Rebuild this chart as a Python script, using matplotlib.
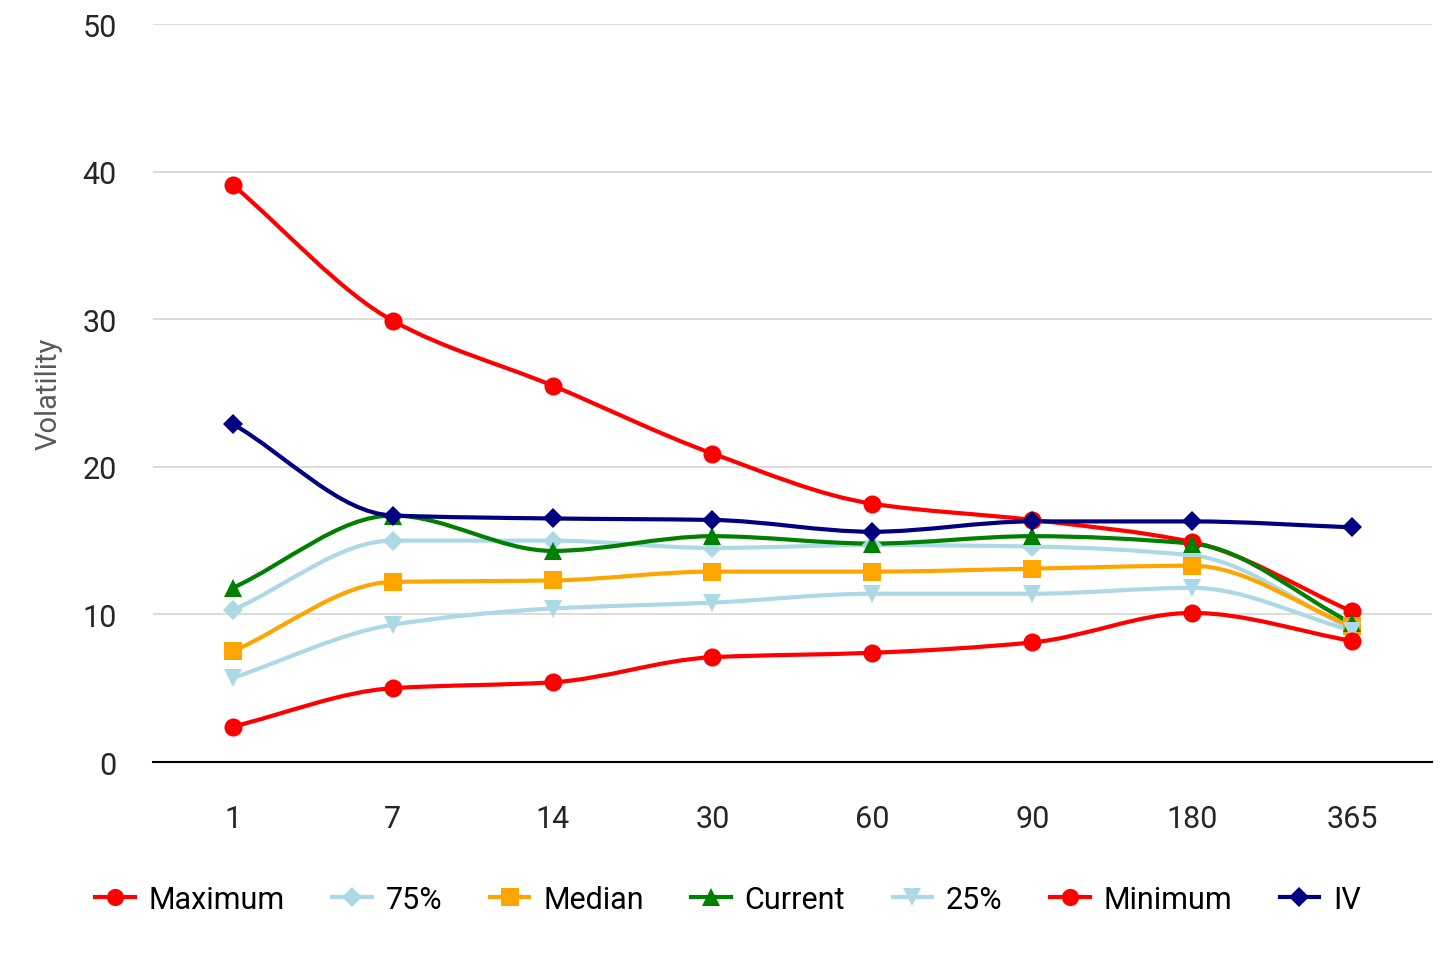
import numpy as np
import matplotlib
matplotlib.use("Agg")
import matplotlib.pyplot as plt
from matplotlib.path import Path
from matplotlib.patches import PathPatch
from matplotlib.lines import Line2D

plt.rcParams['font.family'] = ['Roboto', 'DejaVu Sans']

categories = ["1", "7", "14", "30", "60", "90", "180", "365"]
maximum = [39.1, 29.9, 25.5, 20.9, 17.5, 16.4, 14.9, 10.2]
p75 = [10.3, 15.0, 15.0, 14.5, 14.7, 14.6, 14.0, 9.0]
median = [7.5, 12.2, 12.3, 12.9, 12.9, 13.1, 13.3, 9.2]
current = [11.8, 16.7, 14.3, 15.3, 14.8, 15.3, 14.8, 9.4]
p25 = [5.7, 9.3, 10.4, 10.8, 11.4, 11.4, 11.8, 8.9]
minimum = [2.4, 5.0, 5.4, 7.1, 7.4, 8.1, 10.1, 8.2]
iv = [22.9, 16.7, 16.5, 16.4, 15.6, 16.3, 16.3, 15.9]

series = [
    ("Maximum", maximum, "#ff0000", "o"),
    ("75%", p75, "#add8e6", "D"),
    ("Median", median, "#ffa500", "s"),
    ("Current", current, "#008000", "^"),
    ("25%", p25, "#add8e6", "v"),
    ("Minimum", minimum, "#ff0000", "o"),
    ("IV", iv, "#000080", "D"),
]
marker_sizes = {"o": 13, "D": 10.5, "s": 13, "^": 13, "v": 13}

fig = plt.figure(figsize=(14.56, 9.70), dpi=100)
ax = fig.add_axes([0.105, 0.2134, 0.8785, 0.7608])

def smooth_path(x, y):
    # monotone cubic (Fritsch-Carlson) tangents, drawn as Bezier curves
    x = np.asarray(x, float); y = np.asarray(y, float)
    n = len(x)
    h = np.diff(x)
    d = np.diff(y) / h
    m = np.zeros(n)
    m[0] = d[0]; m[-1] = d[-1]
    for i in range(1, n - 1):
        if d[i - 1] * d[i] <= 0:
            m[i] = 0.0
        else:
            m[i] = 2.0 / (1.0 / d[i - 1] + 1.0 / d[i])
    verts = [(x[0], y[0])]
    codes = [Path.MOVETO]
    for i in range(n - 1):
        c1 = (x[i] + h[i] / 3, y[i] + m[i] * h[i] / 3)
        c2 = (x[i + 1] - h[i] / 3, y[i + 1] - m[i + 1] * h[i] / 3)
        verts += [c1, c2, (x[i + 1], y[i + 1])]
        codes += [Path.CURVE4] * 3
    return Path(verts, codes)

xs = np.arange(len(categories))
handles = []
for name, vals, color, mk in series:
    patch = PathPatch(smooth_path(xs, vals), facecolor="none", edgecolor=color,
                      lw=3.0, capstyle="round", joinstyle="round")
    ax.add_patch(patch)
    ax.plot(xs, vals, linestyle="none", marker=mk, color=color,
            markersize=marker_sizes[mk], markeredgewidth=0)
    handles.append(Line2D([0], [0], color=color, lw=3.0, marker=mk,
                          markersize=marker_sizes[mk] * 0.95, markeredgewidth=0))

ax.set_xlim(-0.5, 7.5)
ax.set_ylim(0, 50)
ax.set_xticks(xs)
ax.set_xticklabels(categories)
ax.set_yticks([0, 10, 20, 30, 40, 50])
ax.tick_params(axis="both", length=0, labelsize=22, labelcolor="#262626")
ax.tick_params(axis="x", pad=30)
ax.tick_params(axis="y", pad=26)
ax.grid(axis="y", color="#d9d9d9", lw=1.3)
ax.set_axisbelow(True)
for s in ["top", "right", "left"]:
    ax.spines[s].set_visible(False)
ax.spines["bottom"].set_color("#000000")
ax.spines["bottom"].set_linewidth(1.5)
ax.set_ylabel("Volatility", fontsize=21, color="#595959", labelpad=14)

fig.legend(handles, [s[0] for s in series], loc="center", ncol=7,
           bbox_to_anchor=(0.5, 0.072), frameon=False, fontsize=22,
           handlelength=1.3, handletextpad=0.45, columnspacing=1.55)

fig.savefig("out.png", dpi=100)
